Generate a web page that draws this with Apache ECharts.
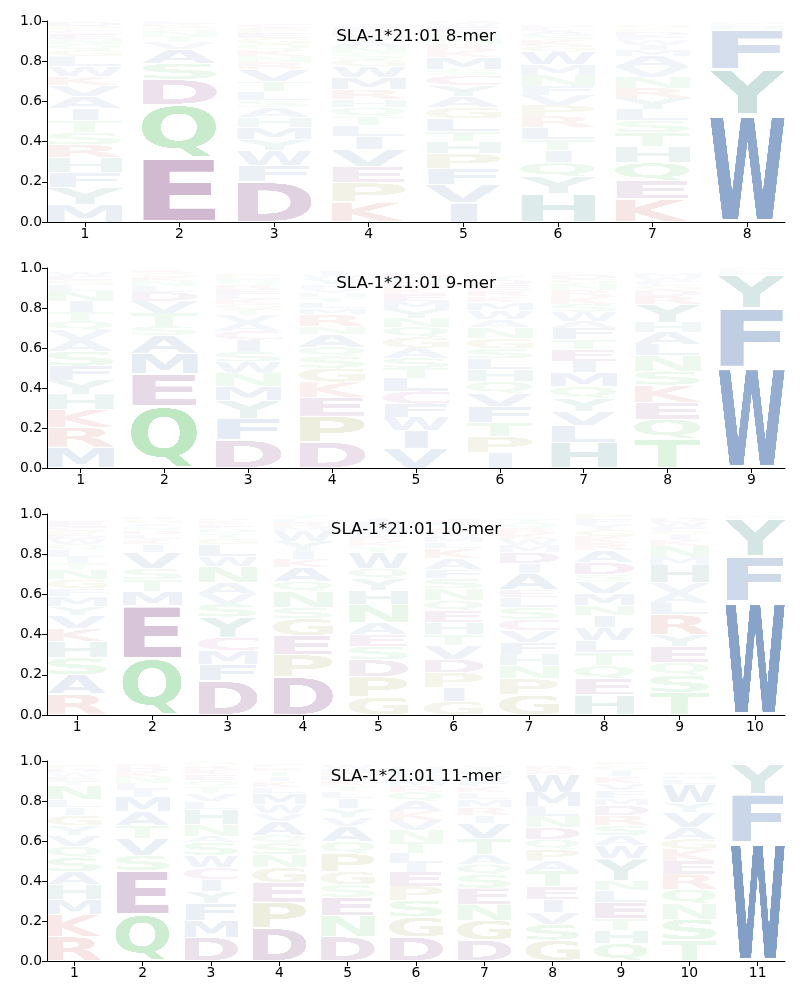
<!DOCTYPE html>
<html><head><meta charset="utf-8">
<script src="https://cdn.jsdelivr.net/npm/echarts@6/dist/echarts.min.js"></script>
<style>html,body{margin:0;padding:0;background:#fff}#c{width:800px;height:1000px}</style>
</head><body><div id="c"></div>
<script>
// ---------- data: each position lists [letter, probability] from bottom to top ----------
const titles = ['SLA-1*21:01 8-mer', 'SLA-1*21:01 9-mer', 'SLA-1*21:01 10-mer', 'SLA-1*21:01 11-mer'];
const yTicks = [0, 0.2, 0.4, 0.6, 0.8, 1.0];

const logo8 = [
 [['M',.085],['Y',.085],['F',.075],['H',.075],['R',.065],['S',.06],['T',.06],['I',.06],['A',.06],['V',.055],['K',.045],['W',.05],['L',.05],['G',.03],['Q',.03],['N',.025],['E',.025],['C',.02],['P',.02],['D',.02]],
 [['E',.32],['Q',.265],['D',.125],['S',.08],['A',.07],['V',.035],['T',.03],['N',.025],['G',.02],['K',.015],['L',.015]],
 [['D',.2],['F',.08],['W',.075],['Y',.055],['M',.06],['H',.05],['A',.05],['S',.035],['L',.045],['T',.05],['V',.06],['R',.035],['N',.03],['K',.03],['Q',.03],['G',.03],['E',.025],['P',.025],['C',.02]],
 [['K',.1],['P',.095],['E',.08],['V',.085],['I',.065],['L',.055],['T',.045],['Q',.045],['H',.04],['R',.05],['M',.06],['W',.055],['G',.035],['S',.03],['N',.03],['A',.03],['Y',.025],['D',.025],['F',.02],['C',.015]],
 [['I',.095],['V',.09],['F',.08],['P',.075],['H',.06],['T',.05],['L',.065],['G',.055],['A',.055],['Y',.055],['C',.05],['S',.03],['M',.06],['K',.035],['R',.03],['N',.03],['Q',.03],['E',.025],['W',.02],['D',.01]],
 [['H',.14],['Y',.085],['Q',.07],['I',.062],['T',.055],['L',.06],['R',.055],['P',.055],['V',.05],['F',.045],['N',.055],['M',.05],['W',.065],['G',.03],['K',.03],['S',.025],['A',.02],['E',.015],['D',.015]],
 [['K',.115],['E',.09],['Q',.09],['H',.08],['T',.07],['S',.062],['L',.055],['Y',.055],['R',.05],['N',.055],['V',.05],['A',.055],['M',.03],['I',.025],['W',.025],['F',.02],['D',.02],['P',.015],['G',.02]],
 [['W',.535],['Y',.225],['F',.195],['H',.015],['L',.013],['M',.01]]
];
const logo9 = [
 [['M',.105],['R',.1],['K',.09],['H',.075],['Y',.07],['F',.07],['S',.075],['A',.055],['V',.05],['Q',.045],['T',.045],['I',.055],['N',.05],['L',.03],['G',.025],['E',.02],['W',.02]],
 [['Q',.31],['E',.16],['M',.105],['A',.09],['S',.045],['T',.065],['V',.06],['D',.045],['L',.03],['N',.025],['K',.02],['G',.02],['R',.015]],
 [['D',.14],['F',.11],['Y',.088],['M',.07],['N',.068],['W',.055],['S',.05],['I',.06],['C',.045],['A',.04],['V',.04],['T',.03],['G',.025],['K',.025],['L',.025],['E',.025],['R',.02],['Q',.02],['H',.015],['P',.02]],
 [['D',.13],['P',.13],['E',.095],['K',.075],['G',.07],['S',.06],['Q',.045],['A',.062],['N',.04],['R',.06],['M',.03],['L',.03],['T',.025],['H',.025],['V',.02],['F',.02],['Y',.03],['W',.02],['I',.02]],
 [['V',.1],['I',.09],['W',.065],['F',.065],['C',.065],['L',.065],['T',.05],['S',.05],['A',.05],['G',.055],['Q',.05],['N',.045],['Y',.045],['M',.04],['E',.035],['K',.03],['R',.03],['H',.02],['D',.02]],
 [['I',.077],['P',.08],['T',.07],['F',.08],['V',.065],['Q',.06],['H',.06],['L',.055],['S',.05],['G',.05],['N',.055],['A',.04],['W',.045],['M',.04],['K',.03],['R',.03],['E',.03],['D',.025],['Y',.02]],
 [['H',.13],['L',.083],['V',.07],['Y',.066],['Q',.058],['M',.07],['I',.058],['E',.058],['T',.05],['F',.058],['A',.035],['W',.045],['S',.04],['K',.035],['R',.035],['N',.03],['G',.025],['D',.02],['C',.015]],
 [['T',.147],['Q',.098],['E',.085],['K',.085],['S',.07],['N',.077],['L',.058],['A',.06],['H',.05],['Y',.09],['R',.04],['D',.03],['G',.025],['F',.02],['W',.02],['M',.02]],
 [['W',.505],['F',.295],['Y',.165],['H',.015],['L',.01],['M',.01]]
];
const logo10 = [
 [['R',.105],['A',.095],['S',.085],['H',.08],['K',.065],['V',.065],['Y',.045],['M',.05],['F',.04],['G',.045],['N',.05],['T',.03],['I',.03],['L',.035],['Q',.03],['W',.025],['D',.02],['P',.02],['C',.02],['E',.03]],
 [['Q',.283],['E',.26],['M',.072],['T',.058],['S',.055],['V',.08],['I',.04],['K',.025],['L',.025],['D',.02],['N',.02],['A',.015],['G',.02],['R',.015]],
 [['D',.17],['F',.083],['M',.068],['C',.067],['Y',.1],['S',.065],['V',.05],['A',.055],['N',.08],['W',.05],['L',.06],['G',.03],['T',.025],['Q',.025],['E',.02],['K',.02],['R',.015]],
 [['D',.19],['P',.11],['E',.095],['G',.085],['S',.055],['N',.08],['Q',.05],['A',.07],['K',.04],['I',.04],['Y',.05],['W',.05],['M',.02],['R',.02],['L',.02],['T',.02]],
 [['G',.09],['P',.1],['D',.085],['S',.068],['E',.058],['A',.058],['N',.09],['H',.07],['Y',.06],['Q',.05],['W',.08],['T',.03],['K',.025],['R',.02],['L',.02],['M',.03],['F',.025],['I',.02]],
 [['G',.068],['I',.07],['P',.072],['D',.068],['V',.068],['T',.055],['H',.06],['E',.058],['Q',.05],['N',.06],['S',.05],['F',.045],['A',.055],['K',.05],['L',.03],['M',.025],['W',.02],['R',.02],['Y',.03],['C',.02]],
 [['G',.1],['P',.08],['N',.065],['H',.058],['F',.058],['V',.058],['C',.058],['S',.058],['L',.05],['E',.04],['A',.08],['I',.05],['D',.055],['M',.035],['W',.03],['K',.03],['R',.025],['Q',.025],['T',.02]],
 [['H',.1],['E',.08],['Q',.065],['T',.065],['L',.06],['W',.065],['I',.06],['N',.05],['M',.06],['V',.06],['S',.035],['D',.06],['A',.06],['R',.035],['K',.035],['G',.03],['Y',.03],['F',.025],['P',.025]],
 [['T',.113],['S',.085],['Q',.063],['E',.08],['Y',.058],['R',.1],['L',.058],['A',.05],['V',.05],['H',.09],['M',.04],['N',.055],['K',.03],['I',.025],['G',.02],['F',.02],['W',.025],['D',.02]],
 [['W',.565],['F',.225],['Y',.185],['H',.01],['M',.01]]
];
const logo11 = [
 [['R',.122],['K',.11],['M',.075],['H',.075],['A',.065],['S',.07],['Q',.055],['V',.055],['Y',.05],['G',.05],['I',.04],['L',.04],['N',.07],['T',.025],['E',.02],['W',.02],['D',.02],['P',.02]],
 [['Q',.233],['E',.22],['S',.075],['V',.085],['T',.065],['A',.068],['M',.075],['I',.035],['L',.035],['N',.03],['K',.025],['D',.02],['R',.02]],
 [['D',.12],['M',.085],['F',.085],['Y',.058],['I',.06],['C',.058],['W',.063],['S',.065],['A',.03],['N',.058],['H',.075],['L',.04],['V',.04],['T',.035],['Q',.03],['E',.03],['K',.025],['R',.02],['G',.02]],
 [['D',.165],['P',.13],['E',.097],['G',.075],['N',.065],['S',.058],['Q',.04],['A',.068],['V',.04],['W',.045],['M',.055],['L',.03],['K',.03],['I',.025],['T',.025],['R',.02],['F',.015]],
 [['D',.122],['N',.105],['E',.092],['S',.063],['G',.065],['P',.09],['Q',.06],['A',.075],['V',.045],['Y',.045],['I',.05],['L',.035],['T',.03],['K',.025],['M',.025],['R',.02],['H',.015],['W',.02]],
 [['D',.12],['G',.1],['S',.085],['P',.07],['E',.07],['I',.045],['L',.05],['T',.055],['N',.06],['V',.05],['K',.045],['A',.05],['Q',.045],['R',.03],['M',.03],['Y',.025],['W',.02],['H',.02]],
 [['D',.105],['G',.1],['N',.08],['E',.08],['S',.068],['Q',.05],['A',.05],['T',.08],['V',.075],['I',.04],['R',.04],['M',.04],['L',.035],['K',.03],['F',.03],['W',.025],['H',.025],['Y',.025]],
 [['G',.105],['S',.078],['V',.058],['I',.065],['E',.065],['T',.08],['A',.05],['P',.058],['Q',.05],['D',.058],['N',.058],['L',.05],['M',.07],['W',.09],['K',.02],['R',.02]],
 [['Q',.087],['H',.067],['T',.058],['E',.083],['L',.058],['N',.05],['Y',.108],['W',.067],['A',.05],['S',.05],['R',.05],['D',.05],['M',.035],['F',.04],['V',.035],['K',.035],['I',.03],['G',.025],['P',.02]],
 [['T',.105],['S',.105],['N',.075],['Q',.075],['R',.075],['E',.065],['K',.06],['G',.05],['A',.058],['V',.075],['Y',.05],['W',.09],['L',.025],['H',.02],['F',.02]],
 [['W',.595],['F',.24],['Y',.15],['H',.008],['M',.007]]
];
const logos = [logo8, logo9, logo10, logo11];

// ---------- styling ----------
const letterColors = {
  A:'#285aa0', V:'#285aa0', L:'#285aa0', I:'#285aa0', M:'#285aa0', F:'#285aa0', W:'#285aa0',
  Y:'#1f7870', H:'#1f7870',
  S:'#2db43c', T:'#2db43c', N:'#2db43c', Q:'#2db43c',
  D:'#6e236e', E:'#6e236e',
  K:'#c03c3c', R:'#c03c3c',
  P:'#80801a', G:'#80801a',
  C:'#a04088'
};
const LETTERS = 'ACDEFGHIKLMNPQRSTVWY';
const VPAD = 0.05;
const FONT = 'bold 400px "DejaVu Sans"';

const glyphCache = {};
function glyph(ch) {
  if (glyphCache[ch]) return glyphCache[ch];
  const mc = document.createElement('canvas').getContext('2d');
  mc.font = FONT;
  const m = mc.measureText(ch);
  const l = m.actualBoundingBoxLeft, r = m.actualBoundingBoxRight;
  const a = m.actualBoundingBoxAscent, d = m.actualBoundingBoxDescent;
  const cv = document.createElement('canvas');
  cv.width = Math.max(1, Math.ceil(l + r));
  cv.height = Math.max(1, Math.ceil(a + d));
  const ctx = cv.getContext('2d');
  ctx.font = FONT;
  ctx.fillStyle = letterColors[ch];
  ctx.textBaseline = 'alphabetic';
  ctx.fillText(ch, l, a);
  glyphCache[ch] = {canvas: cv, bw: l + r};
  return glyphCache[ch];
}

const grids = [
  {left: 47, right: 15, top: 21, height: 201},
  {left: 47, right: 15, top: 268, height: 200},
  {left: 47, right: 15, top: 514, height: 201},
  {left: 47, right: 15, top: 761, height: 200}
];

function buildData(logo) {
  const out = [];
  logo.forEach((col, i) => {
    let floor = 0;
    col.forEach(([ch, h]) => {
      out.push([i + 1, floor, floor + h, LETTERS.indexOf(ch), h]);
      floor += h;
    });
  });
  return out;
}

function renderItem(params, api) {
  const pos = api.value(0), lo = api.value(1), hi = api.value(2);
  const ch = LETTERS[api.value(3)];
  const h = api.value(4);
  const p0 = api.coord([pos - 0.4, hi]);
  const p1 = api.coord([pos + 0.4, lo]);
  const boxW = p1[0] - p0[0], boxH = p1[1] - p0[1];
  const g = glyph(ch), gE = glyph('E');
  const w = boxW * Math.min(1, g.bw / gE.bw);
  const pad = boxH * VPAD / 2;
  return {
    type: 'image',
    style: {
      image: g.canvas,
      x: p0[0] + (boxW - w) / 2,
      y: p0[1] + pad,
      width: w,
      height: Math.max(0.1, boxH - 2 * pad),
      opacity: Math.min(1, h * 0.95 + 0.015)
    }
  };
}

const axisLine = {show: true, onZero: false, lineStyle: {color: '#000', width: 1}};
const axisTick = {show: true, length: 5, lineStyle: {color: '#000', width: 1}};
const labelStyle = {color: '#000', fontSize: 13.9, fontFamily: 'DejaVu Sans'};

const xAxes = [], yAxes = [], series = [], graphics = [];
logos.forEach((logo, gi) => {
  const L = logo.length;
  const positions = logo.map((_, i) => i + 1);
  xAxes.push({
    gridIndex: gi, type: 'value', min: 0.6, max: L + 0.4,
    axisLine, splitLine: {show: false},
    axisTick: Object.assign({customValues: positions}, axisTick),
    axisLabel: Object.assign({customValues: positions, margin: 5, formatter: v => String(v)}, labelStyle)
  });
  yAxes.push({
    gridIndex: gi, type: 'value', min: 0, max: 1, interval: 0.2,
    axisLine, axisTick, splitLine: {show: false},
    axisLabel: Object.assign({margin: 5, formatter: v => v.toFixed(1)}, labelStyle)
  });
  series.push({
    type: 'custom', xAxisIndex: gi, yAxisIndex: gi,
    renderItem, data: buildData(logo), silent: true, animation: false
  });
  const g = grids[gi];
  graphics.push({
    type: 'text', x: 416, y: g.top + 16, z: 100,
    style: {text: titles[gi], align: 'center', verticalAlign: 'middle',
      font: '16.7px "DejaVu Sans"', fill: '#000'}
  });
});

const chart = echarts.init(document.getElementById('c'), null, {renderer: 'canvas'});
chart.setOption({
  animation: false,
  backgroundColor: '#fff',
  grid: grids,
  xAxis: xAxes,
  yAxis: yAxes,
  series,
  graphic: graphics
});
</script>
</body></html>
